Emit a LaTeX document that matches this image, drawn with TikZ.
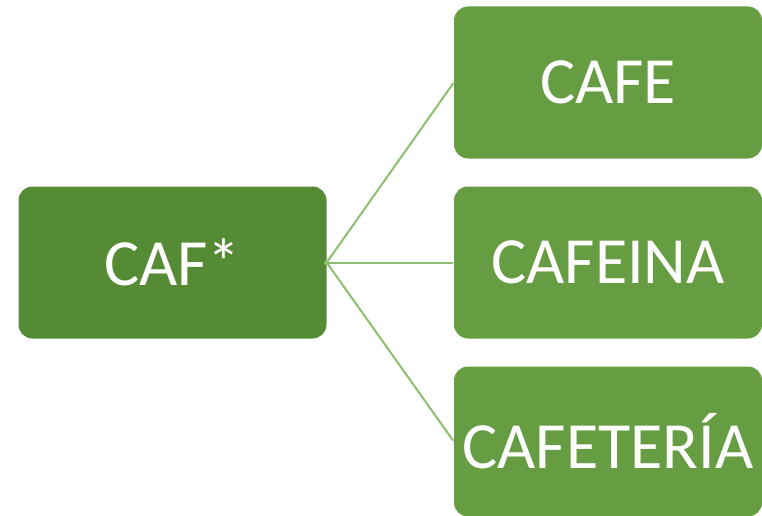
\documentclass[tikz,border=0pt]{standalone}
\usepackage{fontspec}
\setmainfont{Carlito}
\definecolor{rootgreen}{HTML}{568B36}
\definecolor{leafgreen}{HTML}{679D42}
\definecolor{linkgreen}{HTML}{8CBF6E}
\begin{document}
\begin{tikzpicture}[x=1pt,y=-1pt,
  box/.style={rounded corners=14pt, inner sep=0pt, minimum width=308pt, minimum height=152pt,
    text=white, font=\fontsize{66}{70}\selectfont},
  rootbox/.style={box, fill=rootgreen},
  leafbox/.style={box, fill=leafgreen},
  link/.style={draw=linkgreen, line width=2pt, shorten <=-2.5pt, shorten >=1pt}]
\useasboundingbox (0,0) rectangle (762,516);
\node[rootbox] (root) at (172.5,262.5) {CAF*};
\node[leafbox] (cafe) at (608,82.5) {CAFE};
\node[leafbox] (cafeina) at (608,262.5) {CAFEINA};
\node[leafbox, minimum height=150pt] (cafeteria) at (608,441.5) {CAFETERÍA};
\draw[link] (root.east) -- (cafe.west);
\draw[link] (root.east) -- (cafeina.west);
\draw[link] (root.east) -- (cafeteria.west);
\end{tikzpicture}
\end{document}
